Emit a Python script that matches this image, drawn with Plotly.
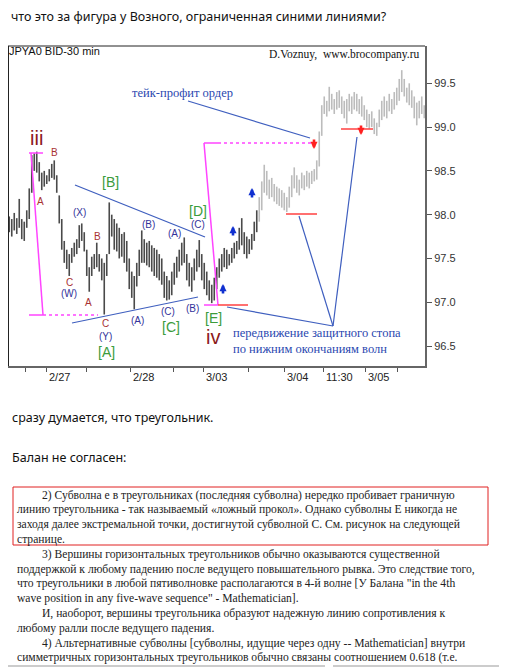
import plotly.graph_objects as go

W, H = 507, 667
OFF = 8  # page body margin offsets the figure by 8px right/down

# ---------------- data (30-min bars, USD/JPY futures) ----------------
bar_high = [
    97.98, 97.95, 98.02, 97.96, 98.18, 97.95, 97.92, 98.05, 98.30, 98.68,
    98.70, 98.72, 98.60, 98.48, 98.50, 98.45, 98.52, 98.58, 98.62, 98.45,
    98.22, 97.95, 97.70, 97.60, 97.55, 97.62, 97.68, 97.72, 97.88, 97.90,
    97.80, 97.60, 97.40, 97.52, 97.55, 97.68, 97.55, 97.50, 97.45, 97.55,
    98.14, 98.00, 97.95, 97.90, 97.85, 97.78, 97.80, 97.70, 97.50, 97.35,
    97.30, 97.45, 97.60, 97.82, 97.72, 97.68, 97.70, 97.65, 97.62, 97.60,
    97.55, 97.50, 97.35, 97.30, 97.25, 97.35, 97.45, 97.52, 97.60, 97.68,
    97.74, 97.55, 97.45, 97.40, 97.50, 97.60, 97.71, 97.55, 97.45, 97.35,
    97.25, 97.20, 97.28, 97.40, 97.50, 97.55, 97.62, 97.60, 97.55, 97.62,
    97.68, 97.70, 97.85, 97.96, 97.80, 97.75, 97.72, 97.78, 97.92, 98.05,
    98.20, 98.38, 98.57, 98.50, 98.40, 98.42, 98.35, 98.32, 98.30, 98.28,
    98.25, 98.20, 98.32, 98.45, 98.54, 98.45, 98.40, 98.48, 98.45, 98.50,
    98.48, 98.50, 98.52, 98.62, 98.95, 99.25, 99.35, 99.30, 99.46, 99.38,
    99.32, 99.40, 99.42, 99.35, 99.30, 99.32, 99.38, 99.35, 99.40, 99.38,
    99.32, 99.35, 99.25, 99.20, 99.15, 99.18, 99.10, 99.05, 99.20, 99.30,
    99.35, 99.30, 99.38, 99.32, 99.40, 99.45, 99.55, 99.65, 99.55, 99.45,
    99.50, 99.42, 99.35, 99.28, 99.30, 99.35, 99.25,
]
bar_low = [
    97.80, 97.75, 97.82, 97.78, 97.85, 97.72, 97.70, 97.85, 97.95, 98.25,
    98.50, 98.48, 98.38, 98.28, 98.32, 98.35, 98.38, 98.42, 98.40, 98.25,
    97.90, 97.60, 97.45, 97.38, 97.30, 97.45, 97.52, 97.55, 97.62, 97.70,
    97.58, 97.30, 97.12, 97.30, 97.38, 97.40, 97.35, 97.25, 96.86, 97.30,
    97.55, 97.75, 97.60, 97.58, 97.50, 97.52, 97.45, 97.35, 97.15, 97.05,
    96.92, 97.18, 97.30, 97.45, 97.45, 97.42, 97.40, 97.35, 97.30, 97.28,
    97.25, 97.20, 97.05, 97.02, 97.03, 97.08, 97.20, 97.28, 97.35, 97.42,
    97.45, 97.25, 97.18, 97.12, 97.25, 97.35, 97.40, 97.25, 97.15, 97.08,
    97.02, 96.99, 97.02, 97.15, 97.28, 97.35, 97.40, 97.38, 97.42, 97.45,
    97.50, 97.55, 97.60, 97.65, 97.55, 97.50, 97.55, 97.60, 97.70, 97.80,
    97.92, 98.05, 98.25, 98.22, 98.18, 98.20, 98.15, 98.12, 98.10, 98.08,
    98.05, 98.03, 98.08, 98.20, 98.30, 98.25, 98.22, 98.30, 98.28, 98.32,
    98.30, 98.35, 98.38, 98.40, 98.55, 98.90, 99.15, 99.12, 99.18, 99.20,
    99.15, 99.20, 99.22, 99.15, 99.10, 99.04, 99.18, 99.15, 99.20, 99.18,
    99.15, 99.12, 99.08, 99.00, 98.98, 99.00, 98.92, 98.90, 99.00, 99.08,
    99.12, 99.10, 99.18, 99.15, 99.20, 99.25, 99.30, 99.40, 99.35, 99.28,
    99.25, 99.22, 99.10, 99.02, 99.10, 99.15, 99.10,
]
n_history = 100  # bars drawn dark (history), the rest light grey

xtick_labels = ["2/27", "2/28", "3/03", "3/04", "11:30", "3/05"]
xtick_bars = [14.7, 48.3, 77.5, 109.9, 125.5, 142.3]
minor_tick_bars = [6.3, 30.7, 65.5, 95.5, 155.1]
ytick_vals = [96.5, 97.0, 97.5, 98.0, 98.5, 99.0, 99.5]
ytick_text = ["96.5", "97.0", "97.5", "98.0", "98.5", "99.0", "99.5"]

# ---------------- helpers (screen pixel -> paper) ----------------
def px(x):
    return (x - OFF) / W

def py(y):
    return 1 - (y - OFF) / H

N = len(bar_high)

def segs(idx):
    xs, ys = [], []
    for i in idx:
        xs += [i, i, None]
        ys += [bar_low[i], bar_high[i], None]
    return xs, ys

fig = go.Figure()
for idx, col in [(range(0, n_history), "#4a4a4a"), (range(n_history, N), "#bcbcbc")]:
    xs, ys = segs(idx)
    fig.add_trace(go.Scatter(x=xs, y=ys, mode="lines", line=dict(color=col, width=1.6),
                             hoverinfo="skip", showlegend=False))

# chart frame coordinates (screen px)
FL, FR, FT, FB = 8, 425, 46, 366

shapes = []

def line(x0, y0, x1, y1, color, width=1.2, dash="solid"):
    shapes.append(dict(type="line", xref="paper", yref="paper",
                       x0=px(x0), y0=py(y0), x1=px(x1), y1=py(y1),
                       line=dict(color=color, width=width, dash=dash)))

# frame top / left
line(FL, FT, FR, FT, "#222", 1)
line(FL + 0.5, FT, FL + 0.5, FB, "#222", 1)

BLUE = "#3f5fbf"
MAG = "#ff44ff"
RED = "#ff4040"

# blue triangle lines & order lines
line(75, 185, 205, 237, BLUE)
line(72, 323, 198, 297, BLUE)
line(188, 101, 310, 138, BLUE)
line(227, 307, 333, 326, BLUE)
line(299, 216, 333, 326, BLUE)
line(333, 326, 357, 137, BLUE)

# magenta wave iii -> iv markers
line(29, 153, 43, 153, MAG, 1.5)
line(31, 153, 43, 315, MAG, 1.5)
line(29, 315, 43, 315, MAG, 1.5)
line(43, 315, 98, 315, MAG, 1.5, "dot")
line(204, 143, 218, 143, MAG, 1.5)
line(204, 143, 218, 305, MAG, 1.5)
line(218, 143, 312, 143, MAG, 1.5, "dot")
line(204, 305, 218, 305, MAG, 1.5)

# red stop levels
line(218, 305, 248, 305, RED, 1.5)
line(286, 214, 317, 214, RED, 1.5)
line(341, 129, 373, 129, RED, 1.5)

# red box around paragraph, bottom grey rule
line(13, 487, 488, 487, "#e02020", 1)
line(13, 545, 488, 545, "#e02020", 1)
line(13, 487, 13, 545, "#e02020", 1)
line(488, 487, 488, 545, "#e02020", 1)
line(8, 666, 325, 666, "#999", 1)
line(333, 666, 507, 666, "#999", 1)

ann = []

def text(x, y, s, size, color, family="Liberation Sans", xanchor="center"):
    ann.append(dict(xref="paper", yref="paper", x=px(x), y=py(y), text=s,
                    showarrow=False, xanchor=xanchor, yanchor="middle",
                    font=dict(size=size, color=color, family=family),
                    borderpad=0))

def arrow(x, y_head, color, up=True):
    ann.append(dict(xref="paper", yref="paper", x=px(x), y=py(y_head), text="",
                    showarrow=True, ax=0, ay=(11 if up else -11), axref="pixel", ayref="pixel",
                    arrowhead=2, arrowsize=0.55, arrowwidth=2.6, arrowcolor=color,
                    standoff=0, startstandoff=0))

# header texts
SANS = "Noto Sans"
text(10, 17, "что это за фигура у Возного, ограниченная синими линиями?", 12.5, "#111", SANS, "left")
text(11, 417, "сразу думается, что треугольник.", 12.5, "#111", SANS, "left")
text(11, 457, "Балан не согласен:", 12.5, "#111", SANS, "left")

# chart captions
text(8, 51, "JPYA0 BID-30 min", 11, "#111", "Liberation Sans", "left")
text(268, 54, "D.Voznuy,  www.brocompany.ru", 11.5, "#111", "Liberation Serif", "left")

# wave labels
DR = "#8b1a1a"
text(36, 138, "iii", 20, DR)
text(213, 337, "iv", 20, DR)

BR = "#a83232"
for x, y, s in [(54, 153, "B"), (40, 202, "A"), (69, 282, "C"), (97, 236, "B"),
                (88, 302, "A"), (105, 323, "C")]:
    text(x, y, s, 10, BR)

NV = "#33339a"
for x, y, s in [(79, 212, "(X)"), (69, 293, "(W)"), (105, 336, "(Y)"), (137, 320, "(A)"),
                (148, 224, "(B)"), (168, 312, "(C)"), (174, 233, "(A)"), (192, 308, "(B)"),
                (198, 224, "(C)")]:
    text(x, y, s, 10, NV)

GR = "#3c9c3c"
for x, y, s in [(110, 182, "[B]"), (106, 352, "[A]"), (171, 327, "[C]"), (198, 211, "[D]"),
                (213, 318, "[E]")]:
    text(x, y, s, 14, GR)

TB = "#2a48b0"
text(182, 93, "тейк-профит ордер", 12.5, TB, "Liberation Serif")
text(232, 333, "передвижение защитного стопа", 12.5, TB, "Liberation Serif", "left")
text(232, 349, "по нижним окончаниям волн", 12.5, TB, "Liberation Serif", "left")

arrow(223, 284, "#1030d0", True)
arrow(233, 226, "#1030d0", True)
arrow(252, 188, "#1030d0", True)
arrow(314, 149, "#ff2020", False)
arrow(361, 135, "#ff2020", False)

# x tick labels (to the right of their tick marks)
for b, s in zip(xtick_bars, xtick_labels):
    pxx = 9.25 + 2.5 * b
    text(pxx + 2, 377, s, 11, "#222", "Liberation Sans", "left")

# scanned book text
SERIF = "Liberation Serif"
book = [
    (41, "2) Субволна e в треугольниках (последняя субволна) нередко пробивает граничную"),
    (16, "линию треугольника - так называемый «ложный прокол». Однако субволны Е никогда не"),
    (16, "заходя далее экстремальной точки, достигнутой субволной С. См. рисунок на следующей"),
    (16, "странице."),
    (41, "3) Вершины горизонтальных треугольников обычно оказываются существенной"),
    (16, "поддержкой к любому падению после ведущего повышательного рывка. Это следствие того,"),
    (16, "что треугольники в любой пятиволновке располагаются в 4-й волне [У Балана \"in the 4th"),
    (16, "wave position in any five-wave sequence\" - Mathematician]."),
    (41, "И, наоборот, вершины треугольника образуют надежную линию сопротивления к"),
    (16, "любому ралли после ведущего падения."),
    (41, "4) Альтернативные субволны [субволны, идущие через одну -- Mathematician] внутри"),
    (16, "симметричных горизонтальных треугольников обычно связаны соотношением 0.618 (т.е."),
]
for k, (x0, s) in enumerate(book):
    text(x0, 495 + 14.8 * k, s, 11.6, "#222", SERIF, "left")

fig.update_layout(
    width=W, height=H, margin=dict(l=0, r=0, t=0, b=0),
    paper_bgcolor="white", plot_bgcolor="white",
    shapes=shapes, annotations=ann,
    xaxis=dict(domain=[px(FL), px(FR)], range=[-0.5, (FR - 9.25) / 2.5],
               showgrid=False, zeroline=False, showline=True, linecolor="#666", linewidth=2,
               ticks="outside", ticklen=4, tickcolor="#555", tickwidth=1,
               tickvals=sorted(xtick_bars + minor_tick_bars), showticklabels=False, fixedrange=True),
    yaxis=dict(domain=[py(FB), py(FT)], range=[96.272, 99.926], side="right",
               showgrid=False, zeroline=False, showline=True, linecolor="#666", linewidth=2,
               ticks="outside", ticklen=5, tickcolor="#555", tickwidth=1,
               tickvals=ytick_vals, ticktext=ytick_text,
               tickfont=dict(size=11, color="#333", family="Liberation Sans")),
)

fig.write_html("out.html")
